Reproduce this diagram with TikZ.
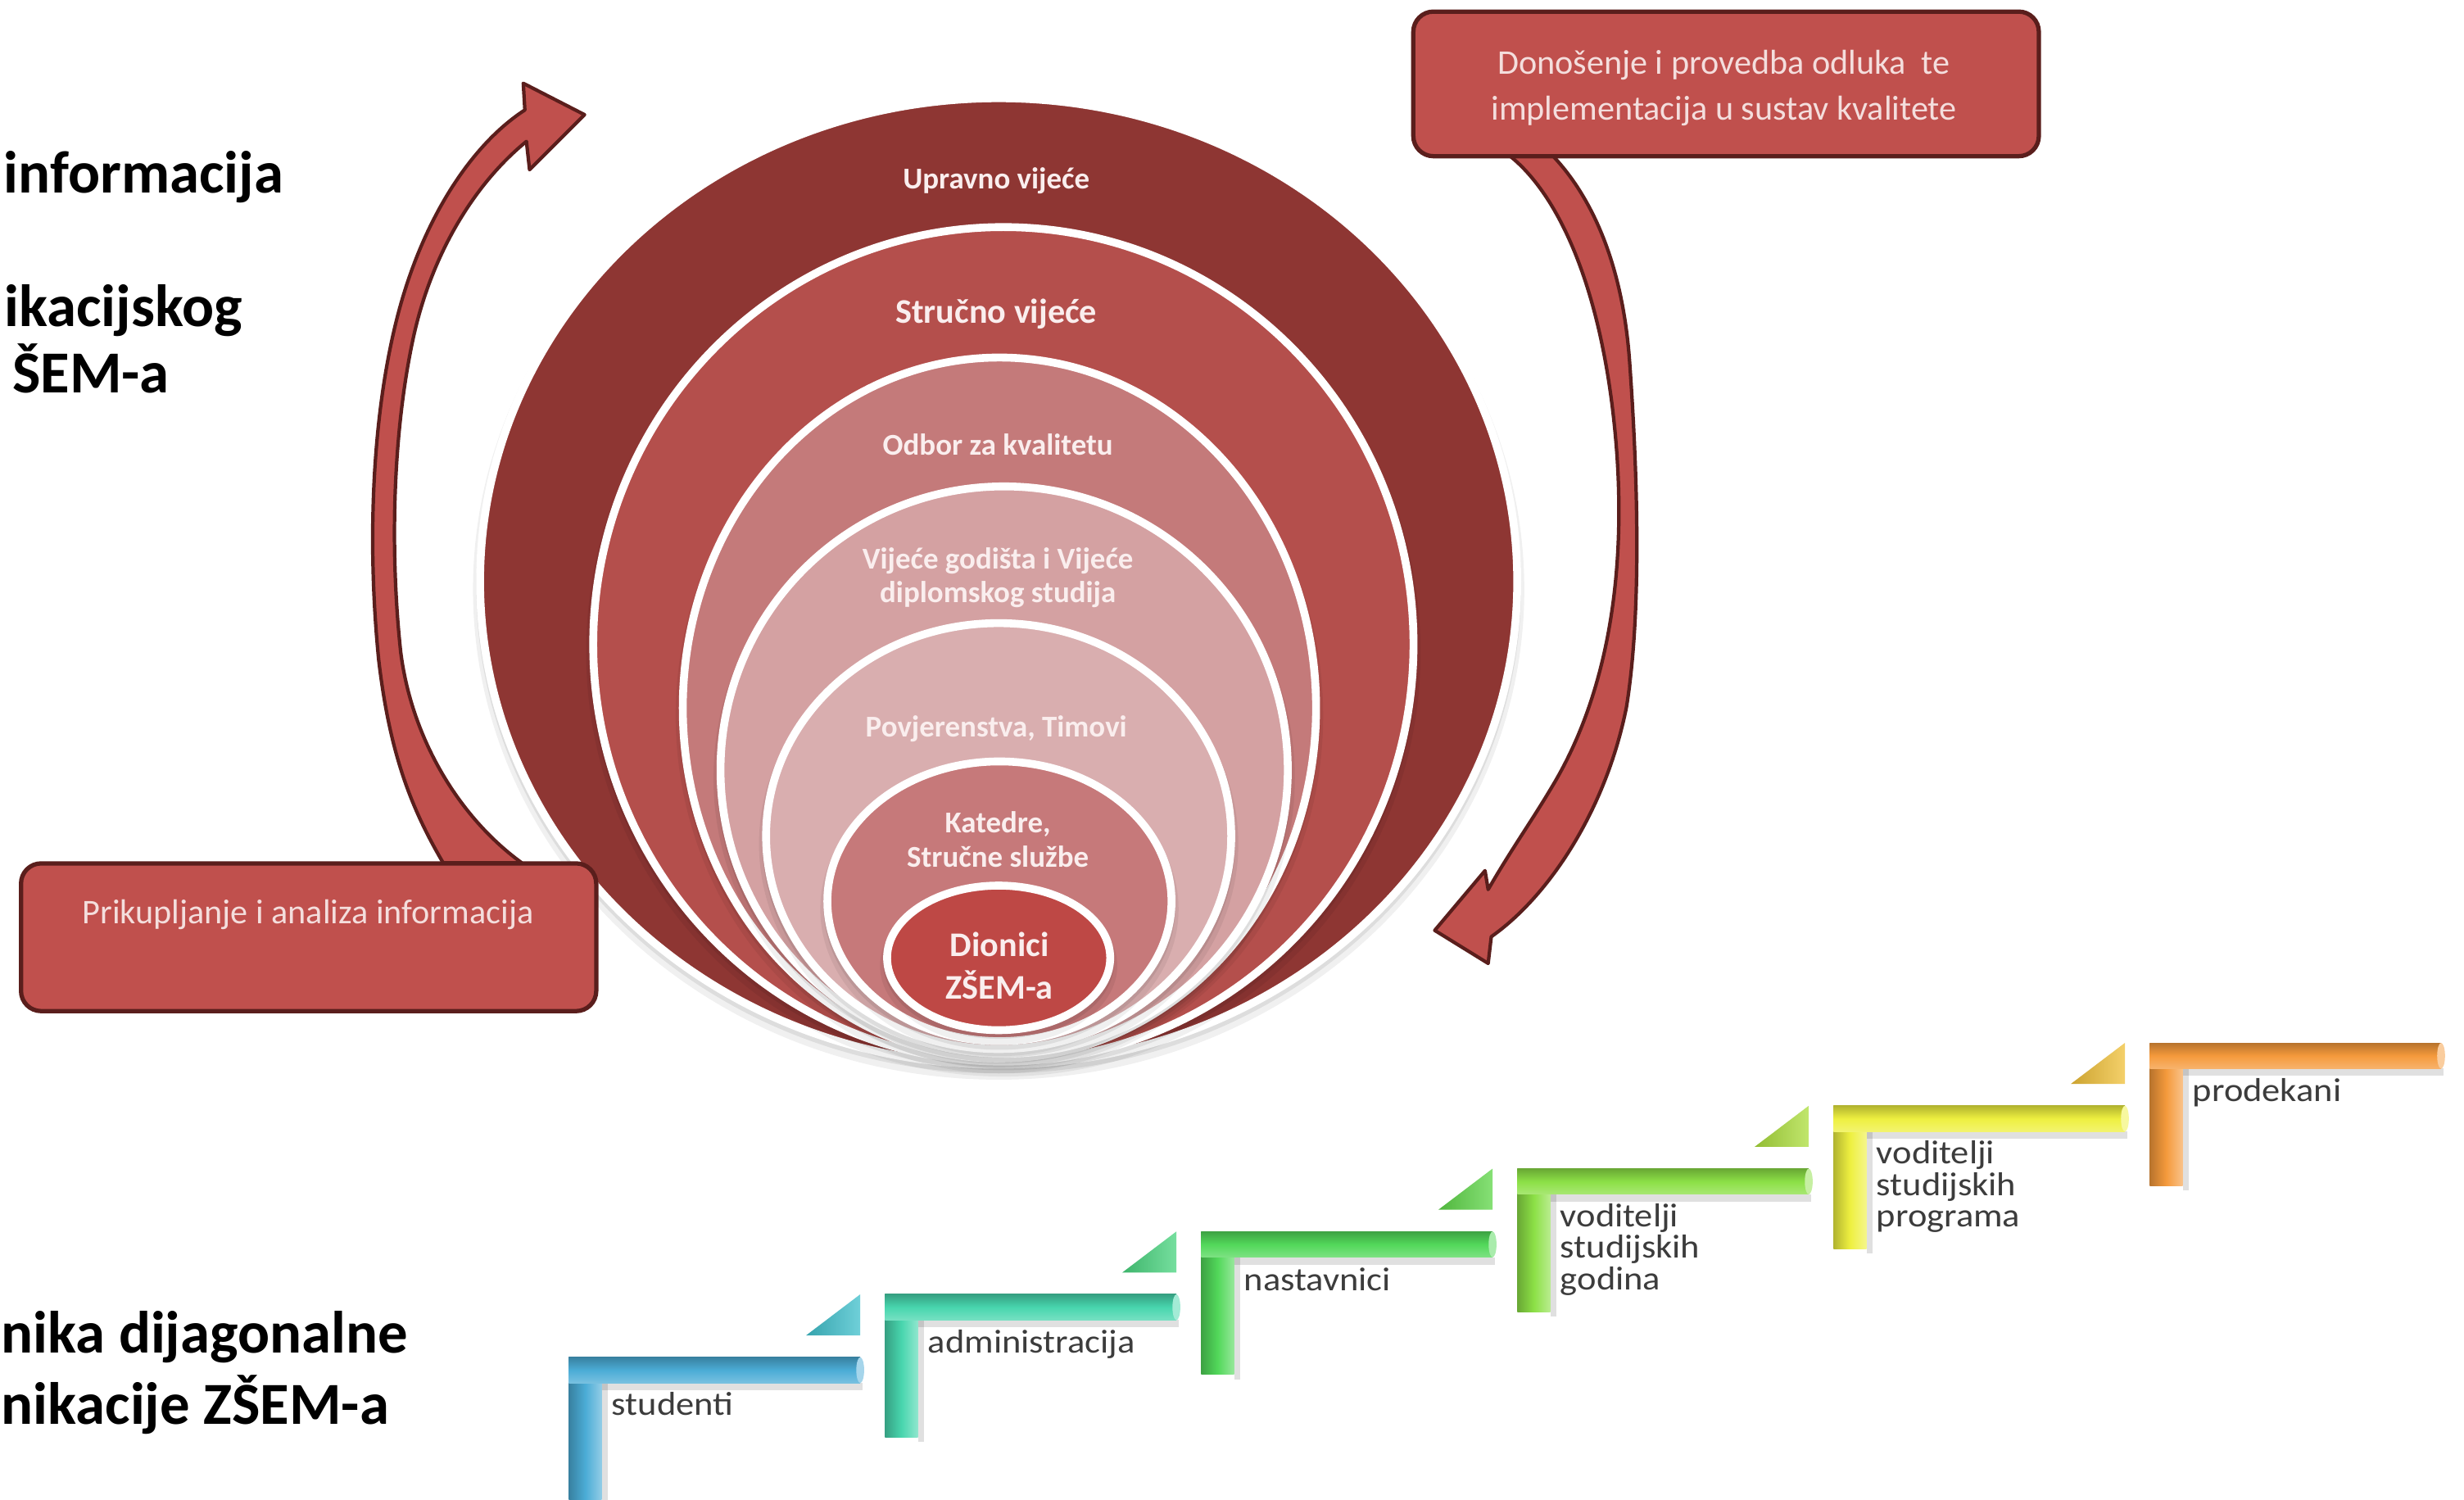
\documentclass[tikz,border=0pt]{standalone}
\usepackage{fontspec}
\setmainfont{Carlito}
\definecolor{rA}{HTML}{8E3633}
\definecolor{rB}{HTML}{B44F4C}
\definecolor{rC}{HTML}{C47A7A}
\definecolor{rD}{HTML}{D4A1A2}
\definecolor{rE}{HTML}{D9AEAF}
\definecolor{rF}{HTML}{C6797A}
\definecolor{rG}{HTML}{BE4845}
\definecolor{boxred}{HTML}{C0504D}
\definecolor{boxdark}{HTML}{5A1E1C}
\definecolor{boxtxt}{HTML}{F4DEDD}
\definecolor{labtxt}{HTML}{FAEEEE}
\definecolor{sA}{HTML}{4BACD6}
\definecolor{sB}{HTML}{48D6AE}
\definecolor{sC}{HTML}{52D85A}
\definecolor{sD}{HTML}{8CE046}
\definecolor{sE}{HTML}{EEF040}
\definecolor{sF}{HTML}{F59A3C}
\definecolor{tA}{HTML}{3FC0CC}
\definecolor{tB}{HTML}{48D47E}
\definecolor{tC}{HTML}{5ED648}
\definecolor{tD}{HTML}{ACDE3C}
\definecolor{tE}{HTML}{F0C038}
\definecolor{tF}{HTML}{F0C038}
\definecolor{stairtxt}{HTML}{3C3C3C}
\begin{document}
\begin{tikzpicture}[x=0.019184cm,y=-0.019184cm,
  ring/.style={draw=white,line width=2.73pt},
  lab/.style={text=labtxt,font=\fontsize{10.5}{11.5}\selectfont\bfseries,align=center,inner sep=0},
  bigtxt/.style={font=\fontsize{20.7}{24}\selectfont\bfseries,inner sep=0,anchor=base west},
  boxsty/.style={draw=boxdark,fill=boxred,line width=1.5pt,rounded corners=7pt,inner sep=0},
  boxtext/.style={text=boxtxt,font=\fontsize{12}{15.7}\selectfont,align=center,inner sep=0},
  arrowsty/.style={fill=boxred,draw=boxdark,line width=1.2pt,line join=round},
  stxt/.style={text=stairtxt,font=\fontsize{11.5}{11}\selectfont,inner sep=0,anchor=base west}]
\useasboundingbox (0,0) rectangle (1568,954);
\clip (0,0) rectangle (1568,954);
\fill[white] (0,0) rectangle (1568,954);

% nested circles
\foreach \cx/\cy/\rx/\ry/\col in {635.5/370/332.5/310/rA, 638.5/410/263.5/268/rB, 636/450.5/204/225.5/rC, 639/490/183/183/rD, 635.5/532/150.5/138/rE, 636/573.5/112/91.5/rF, 635.5/609.5/73.5/48.5/rG}{
  \fill[black,opacity=0.06] (\cx,\cy+5) ellipse [x radius=\rx+2, y radius=\ry+2];
  \fill[black,opacity=0.08] (\cx,\cy+3) ellipse [x radius=\rx, y radius=\ry];
  \path[fill=\col,ring] (\cx,\cy) ellipse [x radius=\rx-2.5, y radius=\ry-2.5];
}
\node[lab] (l1) at (634,115) {Upravno vijeće};
\node[lab,font=\fontsize{12}{13}\selectfont\bfseries] (l2) at (634,200) {Stručno vijeće};
\node[lab] (l3) at (635,283) {Odbor za kvalitetu};
\node[lab] (l4) at (635,367.5) {Vijeće godišta i Vijeće\\diplomskog studija};
\node[lab] (l5) at (634,464) {Povjerenstva, Timovi};
\node[lab,font=\fontsize{10.5}{12}\selectfont\bfseries] (l6) at (635,534) {Katedre,\\Stručne službe};
\node[lab,font=\fontsize{12}{14.7}\selectfont\bfseries] (l7) at (636,614.5) {Dionici\\ZŠEM-a};

% left curved arrow
\filldraw[arrowsty] (282,549) .. controls (262,515) and (248,480) .. (241,420)
 .. controls (234,350) and (236,270) .. (252,205)
 .. controls (268,140) and (300,92) .. (334,70)
 -- (333,53) -- (372,73) -- (337,108) -- (335,90)
 .. controls (303,116) and (275,160) .. (263,215)
 .. controls (250,275) and (248,350) .. (255,415)
 .. controls (262,470) and (292,520) .. (332,549) -- cycle;

% right curved arrow
\filldraw[arrowsty] (955,95) .. controls (993,120) and (1022,190) .. (1029,290)
 .. controls (1035,380) and (1018,450) .. (988,500)
 .. controls (975,522) and (962,540) .. (947,566)
 -- (945,554) -- (913,592) -- (947,613) -- (949,596)
 .. controls (986,570) and (1022,515) .. (1035,450)
 .. controls (1045,388) and (1042,300) .. (1037,230)
 .. controls (1032,160) and (1008,118) .. (984,95) -- cycle;

% boxes
\node[boxsty,minimum width=7.021cm,minimum height=1.803cm,anchor=north west] (bx1) at (12,548) {};
\node[boxtext] (bx1t) at (196,582) {Prikupljanje i analiza informacija};
\node[boxsty,minimum width=7.635cm,minimum height=1.765cm,anchor=north west] (bx2) at (898,6) {};
\node[boxtext] (bx2t) at (1097,56) {Donošenje i provedba odluka\ \ te\\implementacija u sustav kvalitete};

% big black texts
\node[bigtxt] (t1) at (2,123) {informacija};
\node[bigtxt] (t2) at (2.5,207.7) {ikacijskog};
\node[bigtxt] (t3) at (7.5,249.7) {ŠEM-a};
\node[bigtxt] (t4) at (0.5,860.7) {nika dijagonalne};
\node[bigtxt] (t5) at (0.5,906.2) {nikacije ZŠEM-a};

% stairs
\foreach \k/\c/\t in {0/sA/tA,1/sB/tB,2/sC/tC,3/sD/tD,4/sE/tE,5/sF/tF}{
  \pgfmathsetmacro\xo{362+201.2*\k}
  \pgfmathsetmacro\yo{863.6-40*\k}
  \fill[black,opacity=0.12] (\xo+4,\yo+16.4) rectangle (\xo+187,\yo+21);
  \fill[black,opacity=0.12] (\xo+21,\yo+16.4) rectangle (\xo+25,\yo+94);
  \shade[left color=\c!75!black,right color=\c!60!white,middle color=\c] (\xo,\yo) rectangle (\xo+21,\yo+91);
  \shade[top color=\c!75!black,bottom color=\c!75!white,middle color=\c] (\xo,\yo) rectangle (\xo+185.4,\yo+16.4);
  \fill[\c!50!white] (\xo+185.4,\yo+8.2) ellipse [x radius=2.5,y radius=8.2];
  \ifnum\k<5
    \shade[left color=\t!85!black,right color=\t!75!white] (\xo+151,\yo-13.9) -- (\xo+185.4,\yo-40) -- (\xo+185.4,\yo-13.9) -- cycle;
  \fi
}
\node[stxt] (s1) at (389,900.6) {\scalebox{1.1}[1]{studenti}};
\node[stxt] (s2) at (590.2,861.1) {\scalebox{1.1}[1]{administracija}};
\node[stxt] (s3) at (791.4,821.1) {\scalebox{1.1}[1]{nastavnici}};
\node[stxt] (s4a) at (992.6,780.6) {\scalebox{1.1}[1]{voditelji}};
\node[stxt] (s4b) at (992.6,800.6) {\scalebox{1.1}[1]{studijskih}};
\node[stxt] (s4c) at (992.6,820.6) {\scalebox{1.1}[1]{godina}};
\node[stxt] (s5a) at (1193.8,740.6) {\scalebox{1.1}[1]{voditelji}};
\node[stxt] (s5b) at (1193.8,760.6) {\scalebox{1.1}[1]{studijskih}};
\node[stxt] (s5c) at (1193.8,780.6) {\scalebox{1.1}[1]{programa}};
\node[stxt] (s6) at (1395,700.6) {\scalebox{1.1}[1]{prodekani}};
\end{tikzpicture}
\end{document}
